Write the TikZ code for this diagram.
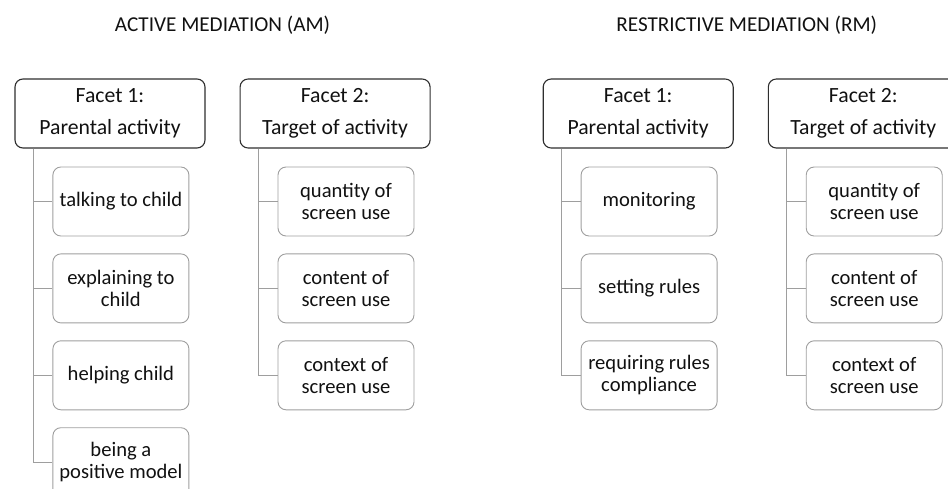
\documentclass[tikz,border=0pt]{standalone}
\usepackage{fontspec}
\setmainfont{Carlito}
\usepackage{xcolor}
\definecolor{facetline}{HTML}{2E2E2E}
\definecolor{itemline}{HTML}{9E9E9E}
\definecolor{textcol}{HTML}{111111}
\usepackage{tikz}
\usetikzlibrary{positioning}
\newcommand{\boxfont}{\fontsize{20.6}{22}\selectfont}
\newcommand{\facetfont}{\fontsize{21.7}{22}\selectfont}
\tikzset{
  every picture/.style = {
    x = 1pt,
    y = 1pt,
    node distance = 17pt and 34pt,
  }
  , % the two facet boxes of each mediation
  facet/.style = {
    rectangle,
    rounded corners = 8pt,
    draw = facetline,
    line width = 1.1pt,
    align = center,
    text = textcol,
    font = \facetfont,
    inner sep = 0pt,
    minimum width = 190pt,
    minimum height = 69pt
  }
  , % boxes hanging under a facet
  item/.style = {
    rectangle,
    rounded corners = 8pt,
    draw = itemline,
    line width = 0.9pt,
    align = center,
    text = textcol,
    font = \boxfont,
    inner sep = 0pt,
    minimum width = 136pt,
    minimum height = 69pt
  }
  , % titles of the mediations
  heading/.style = {
    text = textcol,
    font = \fontsize{21.2}{22}\selectfont,
    anchor = base
  }
  ,
  branch/.style = {
    draw = itemline,
    line width = 1.1pt
  }
}

\begin{document}
\begin{tikzpicture}
    \useasboundingbox (0,0) rectangle (948,-488);

    \node [facet] (a1) at (110,-113.5) {Facet 1:\\[10pt]Parental activity};
    \node [facet, right = of a1] (a2) {Facet 2:\\[10pt]Target of activity};
    \node [facet, right = 112pt of a2] (r1) {Facet 1:\\[10pt]Parental activity};
    \node [facet, right = of r1] (r2) {Facet 2:\\[10pt]Target of activity};

    \path (a1.north) -- (a2.north) node [heading, midway, yshift = 47pt] (am) {ACTIVE MEDIATION (AM)};
    \path (r1.north) -- (r2.north) node [heading, midway, xshift = -4pt, yshift = 47pt] (rm) {RESTRICTIVE MEDIATION (RM)};

    % active mediation
    \node [item, below right = 18pt and 38pt of a1.south west] (a1i1) {talking to child};
    \node [item, below = of a1i1] (a1i2) {explaining to\\child};
    \node [item, below = of a1i2] (a1i3) {helping child};
    \node [item, below = of a1i3] (a1i4) {being a\\positive model};

    \node [item, below right = 18pt and 38pt of a2.south west] (a2i1) {quantity of\\screen use};
    \node [item, below = of a2i1] (a2i2) {content of\\screen use};
    \node [item, below = of a2i2] (a2i3) {context of\\screen use};

    % restrictive mediation
    \node [item, below right = 18pt and 38pt of r1.south west] (r1i1) {monitoring};
    \node [item, below = of r1i1] (r1i2) {setting rules};
    \node [item, below = of r1i2] (r1i3) {requiring rules\\compliance};

    \node [item, below right = 18pt and 38pt of r2.south west] (r2i1) {quantity of\\screen use};
    \node [item, below = of r2i1] (r2i2) {content of\\screen use};
    \node [item, below = of r2i2] (r2i3) {context of\\screen use};

    \foreach \p/\n in {a1/4, a2/3, r1/3, r2/3}
        \foreach \k in {1,...,\n}
            \draw [branch] ([xshift=19pt]\p.south west) |- (\p i\k.west);
\end{tikzpicture}
\end{document}
